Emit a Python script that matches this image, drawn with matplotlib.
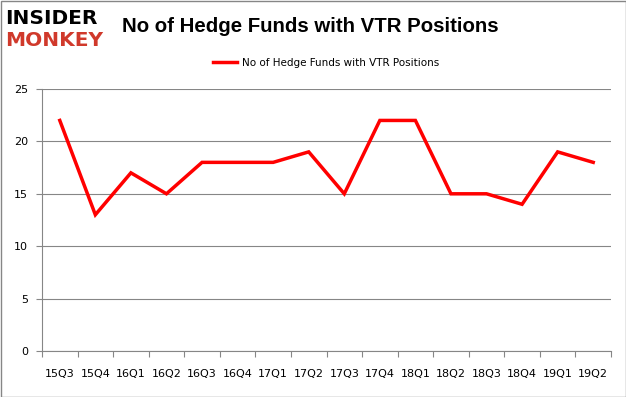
import matplotlib.pyplot as plt
from matplotlib.patches import Rectangle

# data
quarters = ['15Q3', '15Q4', '16Q1', '16Q2', '16Q3', '16Q4', '17Q1', '17Q2',
            '17Q3', '17Q4', '18Q1', '18Q2', '18Q3', '18Q4', '19Q1', '19Q2']
hedge_funds = [22, 13, 17, 15, 18, 18, 18, 19, 15, 22, 22, 15, 15, 14, 19, 18]
yticks = [0, 5, 10, 15, 20, 25]

title = 'No of Hedge Funds with VTR Positions'

fig = plt.figure(figsize=(6.26, 3.97), dpi=100)
ax = fig.add_axes([42/626, 46/397, 569/626, 262/397])

ax.plot(range(len(quarters)), hedge_funds, color='#ff0000', lw=2.5,
        solid_joinstyle='miter', label=title)

ax.set_xlim(-0.5, len(quarters) - 0.5)
ax.set_ylim(0, 25)
ax.set_yticks(yticks)
ax.set_xticks([i - 0.5 for i in range(len(quarters) + 1)], minor=False)
ax.set_xticklabels([])
ax.set_xticks(range(len(quarters)), minor=True)
ax.set_xticklabels(quarters, minor=True)
ax.tick_params(axis='x', which='major', length=4, color='#868686', width=0.8)
ax.tick_params(axis='x', which='minor', length=0, pad=13, labelsize=8)
ax.tick_params(axis='y', length=4, color='#868686', width=0.8, labelsize=8, pad=6)
ax.grid(axis='y', color='#868686', lw=0.8)
ax.set_axisbelow(True)
for s in ['top', 'right']:
    ax.spines[s].set_visible(False)
ax.spines['left'].set_color('#868686')
ax.spines['bottom'].set_color('#868686')

fig.text(122/626, 1 - 27/397, title, fontsize=14.7, fontweight='bold',
         va='center', ha='left', family='Liberation Sans')
fig.text(5/626, 1 - 18/397, 'INSIDER', fontsize=14.5, fontweight='heavy',
         va='center', ha='left', color='black')
fig.text(5/626, 1 - 41/397, 'MONKEY', fontsize=14.5, fontweight='heavy',
         va='center', ha='left', color='#d0392b')

ax.legend(loc='center', bbox_to_anchor=(0.5, 1 + 26/262), frameon=False,
          fontsize=7.5, handlelength=2.3, handletextpad=0.5)

fig.patches.append(Rectangle((0.5/626, 0.5/397), 1 - 1/626, 1 - 1/397,
                             transform=fig.transFigure, fill=False,
                             ec='#868686', lw=1))

fig.savefig('out.png', dpi=100)
